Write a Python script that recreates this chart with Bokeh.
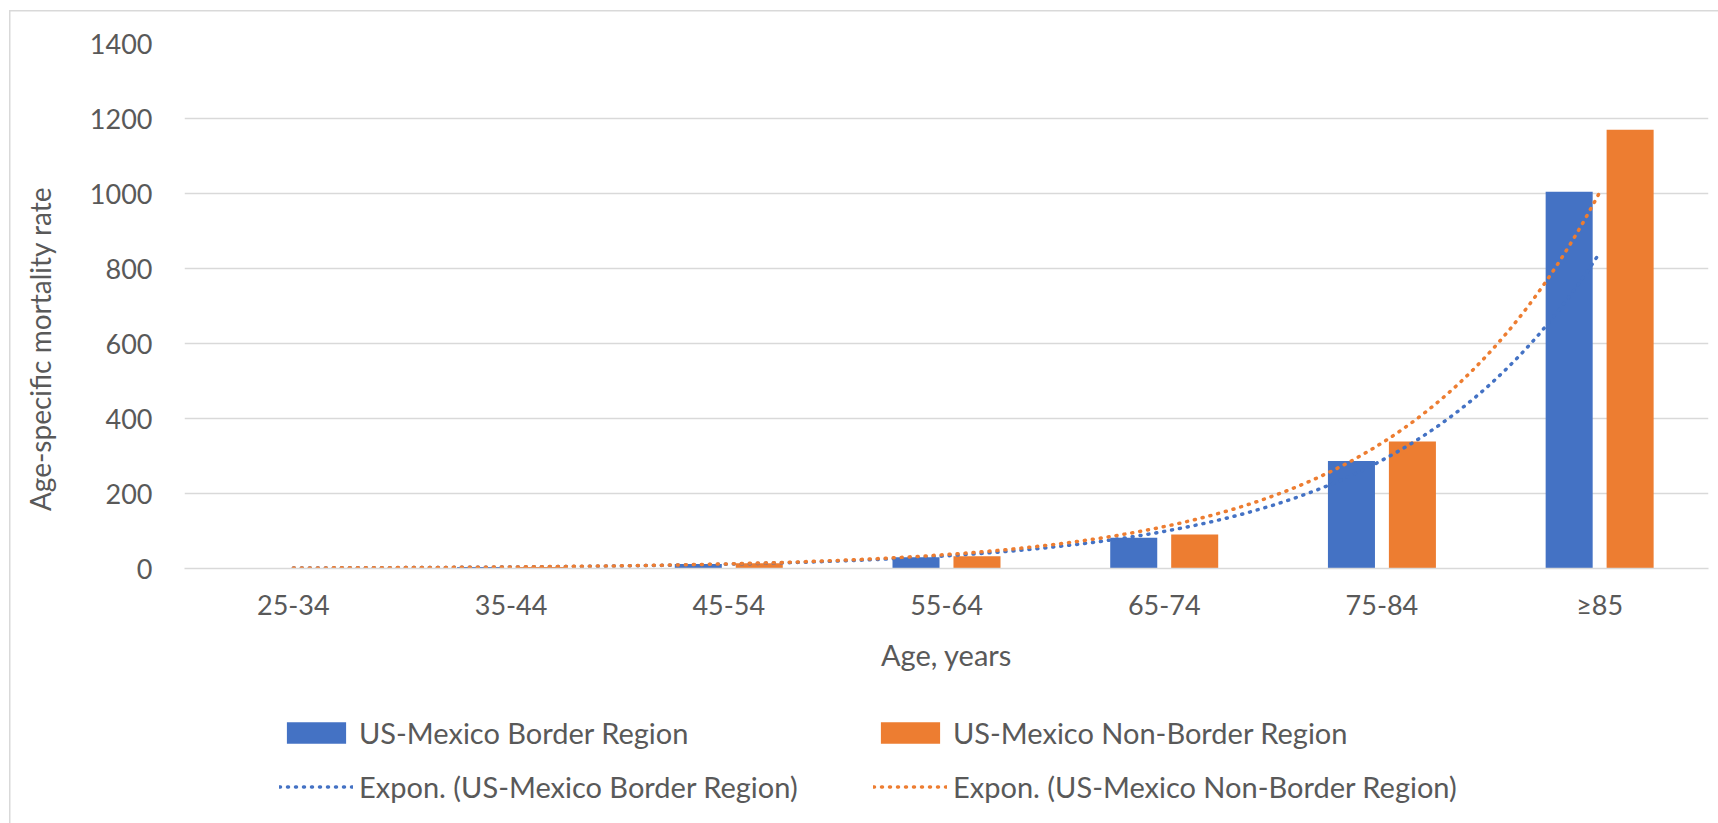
import numpy as np
from bokeh.plotting import figure
from bokeh.layouts import column
from bokeh.models import (Range1d, FixedTicker, Legend, LegendItem, ColumnDataSource)
from bokeh.embed import file_html
from bokeh.resources import INLINE

# Age-specific mortality rates by age group
age_groups = ["25-34", "35-44", "45-54", "55-64", "65-74", "75-84", "≥85"]
border_rates = [1.5, 4, 12, 30, 82, 287, 1005]
nonborder_rates = [1.5, 4, 14, 33, 91, 339, 1170]
y_ticks = [0, 200, 400, 600, 800, 1000, 1200, 1400]

series_names = ["US-Mexico Border Region", "US-Mexico Non-Border Region"]
trend_names = ["Expon. (US-Mexico Border Region)", "Expon. (US-Mexico Non-Border Region)"]
x_title = "Age, years"
y_title = "Age-specific mortality rate"

BLUE = "#4472C4"
ORANGE = "#ED7D31"
TEXT = "#595959"
GRID = "#d9d9d9"
FONT = "Lato"
TICK_SIZE = "27px"
WORD_SIZE = "29px"

W, H_MAIN, H_LEG = 1718, 700, 123

xs = np.arange(1, len(age_groups) + 1)


def expon_trend(values, n=300):
    """Least-squares exponential trendline y = a*exp(b*x) over category index."""
    b, ln_a = np.polyfit(xs, np.log(values), 1)
    xt = np.linspace(xs[0], xs[-1], n)
    return xt, np.exp(ln_a + b * xt)


bar_w = 0.216
off = 0.14
bars = ColumnDataSource(dict(x_b=xs - off, x_nb=xs + off,
                             border=border_rates, nonborder=nonborder_rates))
tx, ty_b = expon_trend(border_rates)
_, ty_nb = expon_trend(nonborder_rates)
trends = ColumnDataSource(dict(x=tx, border=ty_b, nonborder=ty_nb))

bar_style = dict(width=bar_w, line_color=None)
dot_style = dict(line_width=3.5, line_dash="1 7", line_cap="round")


def draw_series(fig):
    rb = fig.vbar(x="x_b", top="border", source=bars, fill_color=BLUE, **bar_style)
    rnb = fig.vbar(x="x_nb", top="nonborder", source=bars, fill_color=ORANGE, **bar_style)
    tb = fig.line(x="x", y="border", source=trends, line_color=BLUE, **dot_style)
    tnb = fig.line(x="x", y="nonborder", source=trends, line_color=ORANGE, **dot_style)
    return rb, rnb, tb, tnb


p = figure(width=W, height=H_MAIN, output_backend="svg", toolbar_location=None,
           x_range=Range1d(0.5, len(age_groups) + 0.5), y_range=Range1d(0, 1400),
           min_border_left=184, min_border_right=10, min_border_top=43,
           min_border_bottom=H_MAIN - 568)
p.background_fill_color = "white"
p.border_fill_color = None
p.outline_line_color = None
draw_series(p)

# axes
p.xgrid.grid_line_color = None
p.ygrid.grid_line_color = GRID
p.ygrid.grid_line_width = 1.5
p.yaxis.ticker = FixedTicker(ticks=y_ticks)
p.xaxis.ticker = FixedTicker(ticks=list(xs))
p.xaxis.major_label_overrides = {int(i): lab for i, lab in zip(xs, age_groups)}

for ax in (p.xaxis, p.yaxis):
    ax.major_tick_line_color = None
    ax.minor_tick_line_color = None
    ax.major_label_text_font = FONT
    ax.major_label_text_font_size = TICK_SIZE
    ax.major_label_text_color = TEXT
    ax.axis_label_text_font = FONT
    ax.axis_label_text_font_size = WORD_SIZE
    ax.axis_label_text_color = TEXT
    ax.axis_label_text_font_style = "normal"

p.yaxis.axis_line_color = None
p.yaxis.major_label_standoff = 26
# trailing no-break spaces set the vertical title a little below the axis middle
p.yaxis.axis_label = y_title + "\u00a0" * 12
p.yaxis.axis_label_text_font_size = "28px"
p.yaxis.axis_label_standoff = 30

p.xaxis.axis_line_color = GRID
p.xaxis.axis_line_width = 1.5
p.xaxis.major_label_standoff = 13
p.xaxis.axis_label = x_title
p.xaxis.axis_label_standoff = 13

# legend strip below the chart, with hidden copies of the series as swatches
leg = figure(width=W, height=H_LEG, output_backend="svg", toolbar_location=None,
             x_axis_location=None, y_axis_location=None,
             x_range=Range1d(0.5, len(age_groups) + 0.5), y_range=Range1d(0, 1400),
             min_border=0)
leg.background_fill_color = None
leg.border_fill_color = None
leg.outline_line_color = None
leg.xgrid.visible = False
leg.ygrid.visible = False
swatches = draw_series(leg)
for r in swatches:
    r.visible = False
sw_b, sw_nb, sw_tb, sw_tnb = swatches

legend = Legend(items=[
    LegendItem(label=series_names[0], renderers=[sw_b]),
    LegendItem(label=series_names[1], renderers=[sw_nb]),
    LegendItem(label=trend_names[0], renderers=[sw_tb]),
    LegendItem(label=trend_names[1], renderers=[sw_tnb]),
], orientation="horizontal", ncols=2, location=(95, 19))
legend.glyph_width = 74
legend.glyph_height = 27
legend.label_standoff = 6
legend.spacing = 19
legend.label_width = 495
legend.padding = 0
legend.margin = 0
legend.border_line_color = None
legend.background_fill_color = None
legend.label_text_font = FONT
legend.label_text_font_size = WORD_SIZE
legend.label_text_color = TEXT
leg.add_layout(legend, "center")

page = column(p, leg, spacing=0)
page.styles = {
    "background-image": f"linear-gradient({GRID},{GRID}), linear-gradient({GRID},{GRID})",
    "background-size": "1.5px 100%, 100% 1.5px",
    "background-position": "8.5px 10px, 8.5px 10px",
    "background-repeat": "no-repeat",
    "background-color": "white",
}

open("out.html", "w").write(file_html(page, INLINE))
